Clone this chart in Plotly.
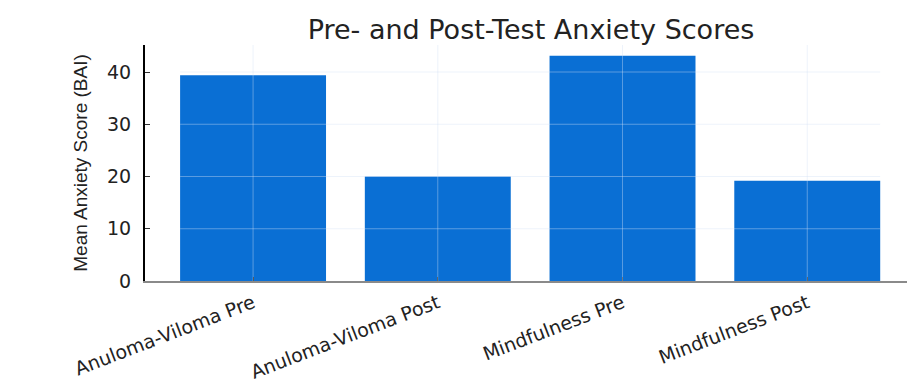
import plotly.graph_objects as go

categories = ["Anuloma-Viloma Pre", "Anuloma-Viloma Post", "Mindfulness Pre", "Mindfulness Post"]
scores = [39.4, 20.0, 43.1, 19.2]
y_ticks = [0, 10, 20, 30, 40]

BAR = "#0a6fd4"
GRID = "rgba(210,225,245,0.4)"

fig = go.Figure()
fig.add_trace(go.Bar(x=categories, y=scores, width=0.79, marker=dict(color=BAR, line=dict(width=0))))

shapes = []
for t in y_ticks[1:]:
    shapes.append(dict(type="line", xref="x", yref="y", x0=-0.395, x1=3.395, y0=t, y1=t,
                       line=dict(color=GRID, width=1), layer="above"))
for c in categories:
    shapes.append(dict(type="line", xref="x", yref="paper", x0=c, x1=c, y0=0, y1=1,
                       line=dict(color=GRID, width=1), layer="above"))

fig.update_layout(
    width=907, height=383,
    margin=dict(l=145, r=0, t=45, b=102),
    paper_bgcolor="white", plot_bgcolor="white",
    showlegend=False,
    shapes=shapes,
    title=dict(text="Pre- and Post-Test Anxiety Scores", x=531/907, xanchor="center",
               y=1 - 30/383, yanchor="middle",
               font=dict(family="DejaVu Sans", size=27, color="#222222")),
    xaxis=dict(range=[-0.585, 3.54], showgrid=False, showline=True, linecolor="#8a8a8a", linewidth=2,
               ticks="inside", ticklen=4, tickcolor="#333333", tickangle=-21,
               ticklabelstandoff=2,
               tickfont=dict(family="DejaVu Sans", size=19, color="#222222")),
    yaxis=dict(range=[0, 45.17], tickvals=y_ticks, showgrid=False, zeroline=False,
               showline=True, linecolor="black", linewidth=2,
               ticks="inside", ticklen=5, tickcolor="#333333", ticklabelstandoff=8,
               tickfont=dict(family="DejaVu Sans", size=19, color="#222222"),
               title=dict(text="Mean Anxiety Score (BAI)", standoff=14,
                          font=dict(family="Liberation Sans Narrow, Liberation Sans", size=19, color="#222222"))),
)

fig.write_html("out.html")
